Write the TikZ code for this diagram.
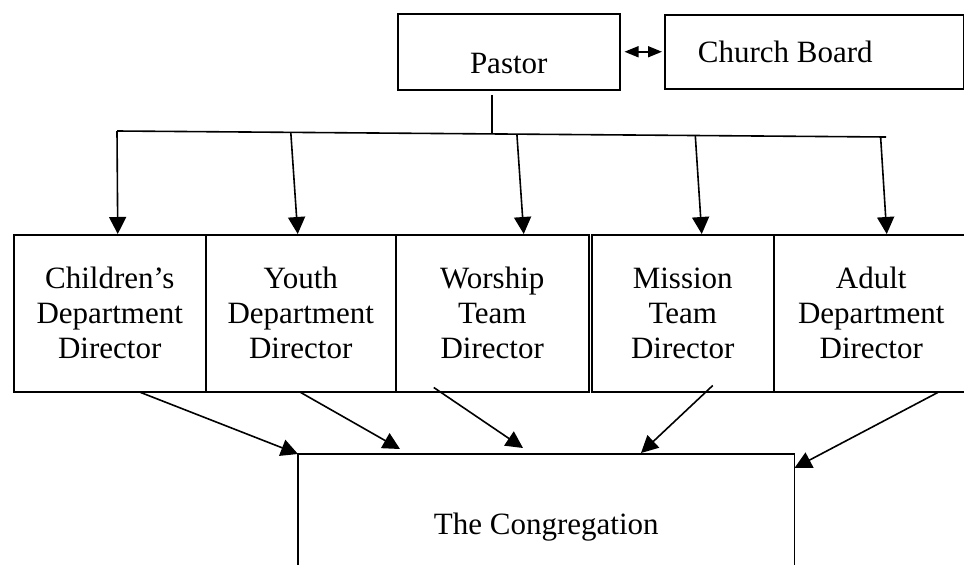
\documentclass[tikz,border=0pt]{standalone}
\usepackage{fontspec}
\setmainfont{Liberation Serif}
\usepackage{tikz}
\usetikzlibrary{positioning,arrows.meta,calc}

\tikzset{
    unitbox/.style={draw, line width=1.5pt, anchor=north west, inner sep=0pt,
        align=center, font=\fontsize{31}{35}\selectfont},
    dept/.style={unitbox, minimum width=#1, minimum height=157pt},
    link/.style={line width=1.6pt, -{Triangle[width=17pt,length=17pt]}},
}

\begin{document}
\begin{tikzpicture}[x=1pt, y=-1pt]

    \useasboundingbox (0,0) rectangle (964,565);

    \node (pastor) [unitbox, minimum width=222pt, text height=60pt, text depth=16pt] at (397,13) {Pastor};
    \node (board) [unitbox, minimum width=299pt, minimum height=74pt] at (664,14) {\hspace*{-58pt}Church Board};

    \node (child) [dept=192pt] at (13,234) {Children’s\\Department\\Director};
    \node (youth) [dept=190pt] at (205,234) {Youth\\Department\\Director};
    \node (worship) [dept=193pt] at (395,234) {Worship\\Team\\Director};
    \node (mission) [dept=182pt] at (591,234) {Mission\\Team\\Director};
    \node (adult) [dept=195pt] at (773,234) {Adult\\Department\\Director};

    \node (cong) [unitbox, draw=none, minimum width=495pt, text height=80pt, text depth=31pt] at (298,454) {The Congregation};
    \draw[line width=1.5pt] (cong.south west) |- (cong.north east) -- (cong.south east);

    % bar under the pastor
    \coordinate (barL) at (117,131);
    \coordinate (barR) at (886,137);
    \coordinate (hub) at ($(barL)!0.488!(barR)$);
    \draw[line width=1.6pt] (barL) -- (barR);
    \draw[line width=1.6pt] (pastor.south -| hub) ++(0,4) -- (hub);

    \draw[line width=1.6pt, {Triangle[width=11pt,length=14pt]}-{Triangle[width=11pt,length=14pt]}]
        ($(pastor.east)+(4,0)$) -- ($(board.west)+(-2,0)$);

    \draw[link] (barL) -- ([xshift=8pt]child.north);
    \draw[link] ($(barL)!0.226!(barR)$) -- ([xshift=-3pt]youth.north);
    \draw[link] ($(barL)!0.520!(barR)$) -- ([xshift=31.5pt]worship.north);
    \draw[link] ($(barL)!0.752!(barR)$) -- ([xshift=19pt]mission.north);
    \draw[link] ($(barL)!0.993!(barR)$) -- ([xshift=15.5pt]adult.north);

    \draw[link] ($(child.south)+(31,0)$) -- (cong.north west);
    \draw[link] (youth.south) -- ($(cong.north west)+(102,-5)$);
    \draw[link] ($(worship.south)+(-58.5,-5)$) -- ($(cong.north west)+(225,-6)$);
    \draw[link] ($(mission.south)+(30,-7)$) -- ($(cong.north west)+(343,-1)$);
    \draw[link] ($(adult.south)+(66.5,0)$) -- ($(cong.north east)+(0,14)$);

\end{tikzpicture}
\end{document}
